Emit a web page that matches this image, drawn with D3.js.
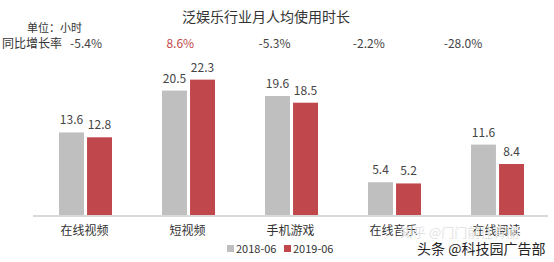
<!DOCTYPE html>
<html lang="zh">
<head>
<meta charset="UTF-8">
<title>泛娱乐行业月人均使用时长</title>
<script src="https://d3js.org/d3.v7.min.js"></script>
<style>
  body { margin: 0; background: #fff; }
  text { font-family: "Noto Sans CJK SC", "Noto Sans", sans-serif; }
</style>
</head>
<body>
<div id="chart"></div>
<script>
// data
var categories = ["在线视频", "短视频", "手机游戏", "在线音乐", "在线阅读"];
var series = ["2018-06", "2019-06"];
var values2018 = [13.6, 20.5, 19.6, 5.4, 11.6];
var values2019 = [12.8, 22.3, 18.5, 5.2, 8.4];
var growth = ["-5.4%", "8.6%", "-5.3%", "-2.2%", "-28.0%"];

var width = 554, height = 262;
var colors = ["#bfbfbf", "#c0474b"];

var svg = d3.select("#chart").append("svg")
    .attr("width", width)
    .attr("height", height);

var x = d3.scaleBand().domain(categories).range([33, 548]);
var xInner = d3.scaleBand().domain(series).range([26, 79]).paddingInner(0.11);
var y = d3.scaleLinear().domain([0, 10]).range([215, 154.3]);

// title + unit
svg.append("text")
    .attr("x", 266).attr("y", 22)
    .attr("text-anchor", "middle")
    .attr("font-size", 14).attr("fill", "#333")
    .text("泛娱乐行业月人均使用时长");

svg.append("text")
    .attr("x", 27).attr("y", 32)
    .attr("font-size", 11).attr("fill", "#333")
    .text("单位：小时");

svg.append("text")
    .attr("x", 2).attr("y", 48)
    .attr("font-size", 12).attr("fill", "#333")
    .text("同比增长率");

// growth row
var gx = d3.scalePoint().domain(categories).range([86, 463]);
svg.selectAll(".growth")
    .data(growth)
    .enter().append("text")
    .attr("class", "growth")
    .attr("x", function(d, i) { return gx(categories[i]); })
    .attr("y", 48)
    .attr("text-anchor", "middle")
    .attr("font-size", 12)
    .attr("fill", function(d) { return d[0] === "-" ? "#444" : "#c0474b"; })
    .text(function(d) { return d; });

// bars
var rows = [];
categories.forEach(function(c, i) {
    rows.push({ cat: c, s: series[0], v: values2018[i], k: 0 });
    rows.push({ cat: c, s: series[1], v: values2019[i], k: 1 });
});

svg.selectAll(".bar")
    .data(rows)
    .enter().append("rect")
    .attr("class", "bar")
    .attr("x", function(d) { return x(d.cat) + xInner(d.s); })
    .attr("y", function(d) { return y(d.v); })
    .attr("width", xInner.bandwidth())
    .attr("height", function(d) { return y(0) - y(d.v); })
    .attr("fill", function(d) { return colors[d.k]; });

svg.selectAll(".val")
    .data(rows)
    .enter().append("text")
    .attr("class", "val")
    .attr("x", function(d) { return x(d.cat) + xInner(d.s) + xInner.bandwidth() / 2; })
    .attr("y", function(d) { return y(d.v) - 8; })
    .attr("text-anchor", "middle")
    .attr("font-size", 12).attr("fill", "#444")
    .text(function(d) { return d.v.toFixed(1); });

// baseline
svg.append("line")
    .attr("x1", 33).attr("x2", 548)
    .attr("y1", y(0) + 1).attr("y2", y(0) + 1)
    .attr("stroke", "#d9d9d9").attr("stroke-width", 2);

// category labels
svg.selectAll(".cat")
    .data(categories)
    .enter().append("text")
    .attr("class", "cat")
    .attr("x", function(d) { return x(d) + x.bandwidth() / 2; })
    .attr("y", 235)
    .attr("text-anchor", "middle")
    .attr("font-size", 12).attr("fill", "#333")
    .text(function(d) { return d; });

// legend
var legX = [227, 284];
series.forEach(function(s, i) {
    svg.append("rect")
        .attr("x", legX[i]).attr("y", 245)
        .attr("width", 7).attr("height", 7)
        .attr("fill", colors[i]);
    svg.append("text")
        .attr("x", legX[i] + 9).attr("y", 253)
        .attr("font-size", 11).attr("fill", "#333")
        .text(s);
});

// watermarks
svg.append("text")
    .attr("x", 400).attr("y", 237)
    .attr("font-size", 13).attr("fill", "#e3e3e3")
    .text("知乎 @门门前往青丽");

svg.append("text")
    .attr("x", 417).attr("y", 254)
    .attr("font-size", 14).attr("fill", "#222")
    .text("头条 @科技园广告部");
</script>
</body>
</html>
